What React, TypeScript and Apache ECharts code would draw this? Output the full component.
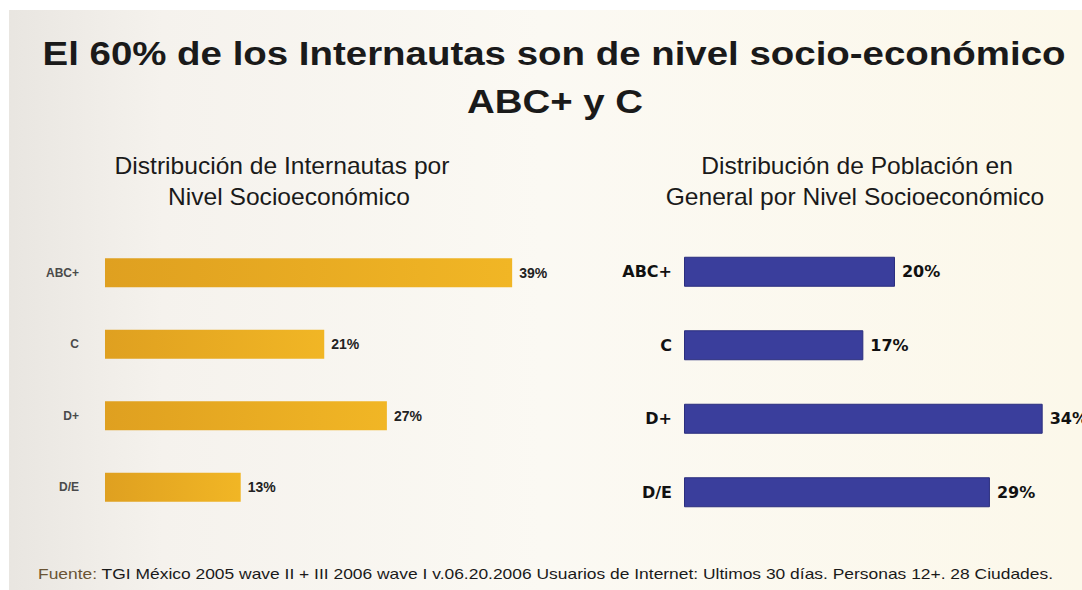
import React, { useEffect, useRef } from "react";
import * as echarts from "echarts";

const categories = ["ABC+", "C", "D+", "D/E"];
const internautas = [39, 21, 27, 13];
const poblacion = [20, 17, 34, 29];

const titleLines = ["El 60% de los Internautas son de nivel socio-económico", "ABC+ y C"];
const leftSubtitle = ["Distribución de Internautas por", "Nivel Socioeconómico"];
const rightSubtitle = ["Distribución de Población en", "General por Nivel Socioeconómico"];
const sourceLabel = "Fuente:";
const sourceText =
  " TGI México 2005 wave II + III 2006 wave I v.06.20.2006 Usuarios de Internet: Ultimos 30 días. Personas 12+. 28 Ciudades.";

export default function App() {
  const ref = useRef<HTMLDivElement>(null);
  useEffect(() => {
    if (!ref.current) return;
    const chart = echarts.init(ref.current, null, { renderer: "svg" });
    const sans = "'Liberation Sans', Arial, sans-serif";
    const txt = (text: string, x: number, y: number, size: number, weight: string, sx: number) => ({
      type: "text",
      x,
      y,
      scaleX: sx,
      style: {
        text,
        fontSize: size,
        fontWeight: weight,
        fontFamily: sans,
        fill: "#1a1a1a",
        textAlign: "center",
        textVerticalAlign: "middle",
      },
    });
    chart.setOption({
      animation: false,
      backgroundColor: new echarts.graphic.LinearGradient(0, 0, 1, 0, [
        { offset: 0, color: "#e8e5e0" },
        { offset: 0.15, color: "#f5f2ed" },
        { offset: 0.5, color: "#fbf9f3" },
        { offset: 1, color: "#fcf8ea" },
      ]),
      graphic: [
        { type: "rect", shape: { x: 0, y: 0, width: 1082, height: 10 }, style: { fill: "#ffffff" } },
        { type: "rect", shape: { x: 0, y: 0, width: 9, height: 590 }, style: { fill: "#ffffff" } },
        txt(titleLines[0], 554, 54, 33, "bold", 1.165),
        txt(titleLines[1], 555, 102, 33, "bold", 1.165),
        txt(leftSubtitle[0], 282, 166, 23, "normal", 1.07),
        txt(leftSubtitle[1], 289, 197, 23, "normal", 1.07),
        txt(rightSubtitle[0], 857, 166, 23, "normal", 1.07),
        txt(rightSubtitle[1], 855, 197, 23, "normal", 1.07),
        {
          type: "text",
          x: 38,
          y: 574,
          scaleX: 1.245,
          style: {
            text: "{a|" + sourceLabel + "}{b|" + sourceText + "}",
            textVerticalAlign: "middle",
            rich: {
              a: { fontSize: 14, fontFamily: sans, fill: "#6a5434", color: "#6a5434" },
              b: { fontSize: 14, fontFamily: sans, fill: "#1a1a1a", color: "#1a1a1a" },
            },
          },
        },
      ],
      grid: [
        { left: 105, top: 237, width: 417.6, height: 286 },
        { left: 684, top: 235, width: 395.6, height: 294 },
      ],
      xAxis: [
        { type: "value", gridIndex: 0, min: 0, max: 40, show: false },
        { type: "value", gridIndex: 1, min: 0, max: 37.5, show: false },
      ],
      yAxis: [
        {
          type: "category",
          gridIndex: 0,
          data: categories,
          inverse: true,
          axisLine: { show: false },
          axisTick: { show: false },
          axisLabel: { fontSize: 12, fontWeight: "bold", color: "#4a4a4a", fontFamily: sans, margin: 26 },
        },
        {
          type: "category",
          gridIndex: 1,
          data: categories,
          inverse: true,
          axisLine: { show: false },
          axisTick: { show: false },
          axisLabel: { fontSize: 16, fontWeight: "bold", color: "#111", fontFamily: "'DejaVu Sans', sans-serif", margin: 12 },
        },
      ],
      series: [
        {
          type: "bar",
          xAxisIndex: 0,
          yAxisIndex: 0,
          data: internautas,
          barWidth: 29,
          itemStyle: {
            color: new echarts.graphic.LinearGradient(0, 0, 1, 0, [
              { offset: 0, color: "#dfa020" },
              { offset: 1, color: "#f1b625" },
            ]),
          },
          label: {
            show: true,
            position: "right",
            distance: 7,
            formatter: "{c}%",
            fontSize: 14,
            fontWeight: "bold",
            color: "#222",
            fontFamily: sans,
          },
        },
        {
          type: "bar",
          xAxisIndex: 1,
          yAxisIndex: 1,
          data: poblacion,
          barWidth: 30,
          itemStyle: { color: "#3a3e9c", borderColor: "#2b2e7e", borderWidth: 1 },
          label: {
            show: true,
            position: "right",
            distance: 7,
            formatter: "{c}%",
            fontSize: 16,
            fontWeight: "bold",
            color: "#111",
            fontFamily: "'DejaVu Sans', sans-serif",
          },
        },
      ],
    });
    return () => chart.dispose();
  }, []);
  return (
    <div
      ref={ref}
      style={{ position: "absolute", left: 0, top: 0, width: 1082, height: 590 }}
    />
  );
}
